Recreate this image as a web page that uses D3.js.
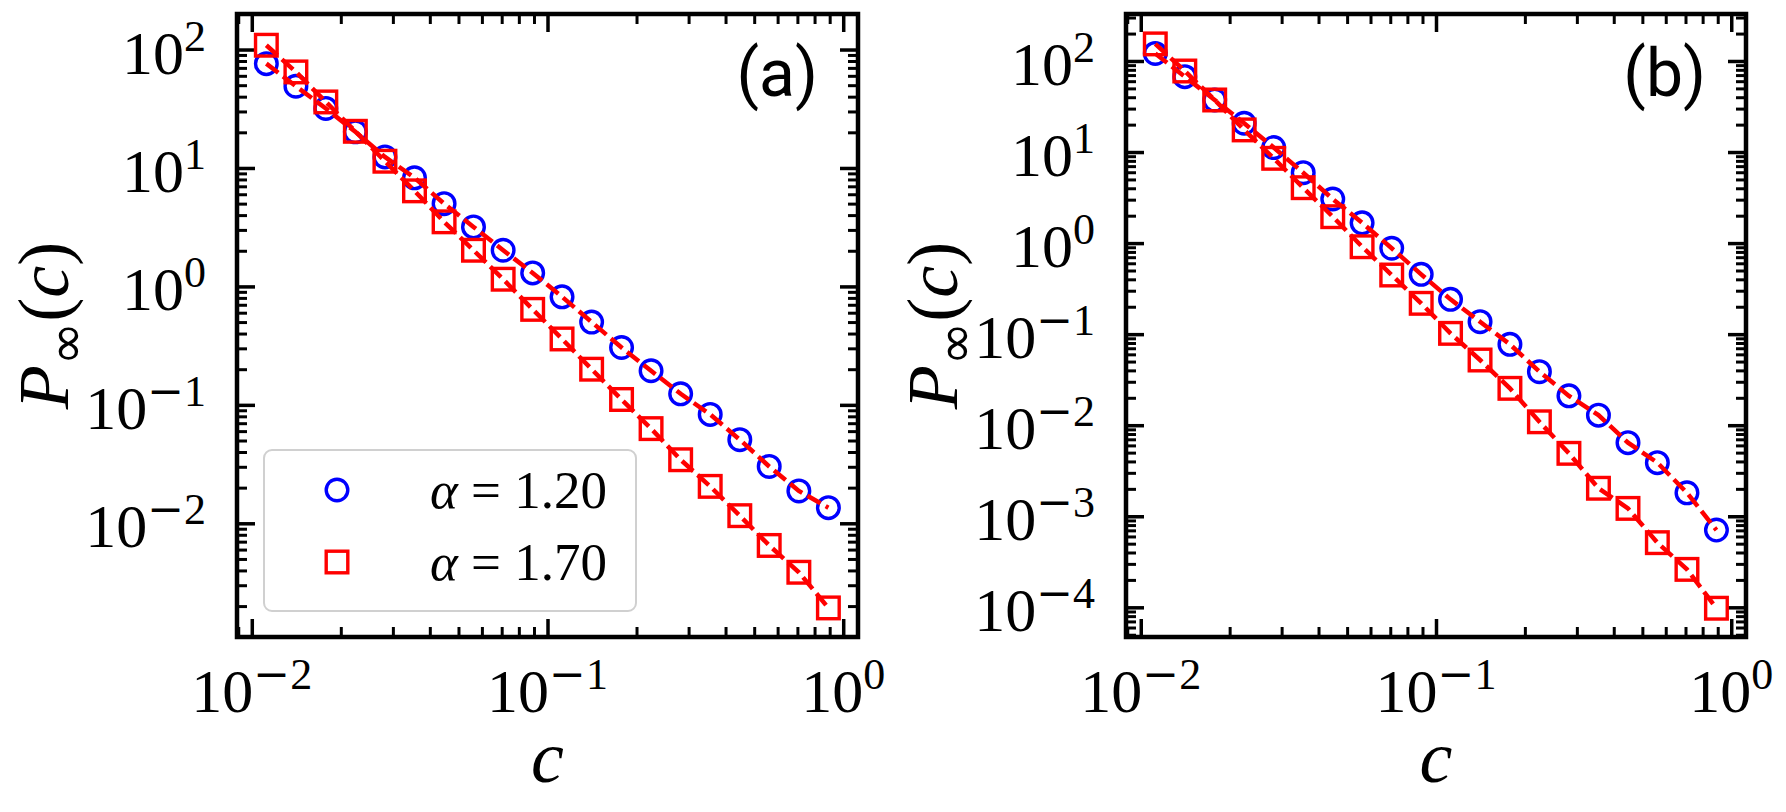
<!DOCTYPE html>
<html>
<head>
<meta charset="utf-8">
<script src="https://cdnjs.cloudflare.com/ajax/libs/d3/7.8.5/d3.min.js"></script>
<style>
body{margin:0;background:#fff;}
svg{display:block;}
text{font-family:"Liberation Serif","DejaVu Serif",serif;fill:#000;}
</style>
</head>
<body>
<div id="canvas"></div>
<script>
// data
var cValues = [0.0112, 0.0141, 0.0178, 0.0224, 0.0282, 0.0355, 0.0447, 0.0562, 0.0708, 0.0891,
               0.112, 0.141, 0.178, 0.224, 0.282, 0.355, 0.447, 0.562, 0.708, 0.891];

var circlesA = [76, 49, 31.8, 20.2, 12.4, 8.26, 5.0, 3.18, 2.02, 1.30,
                0.817, 0.50, 0.305, 0.194, 0.124, 0.083, 0.0508, 0.0302, 0.01875, 0.01355];
var squaresA = [108.7, 64.7, 36.1, 20.4, 11.4, 6.41, 3.51, 2.02, 1.15, 0.64,
                0.36, 0.20, 0.111, 0.063, 0.0344, 0.0205, 0.0116, 0.0065, 0.00386, 0.00193];

var circlesB = [121, 67.3, 37.3, 20.7, 11.2, 5.93, 3.05, 1.67, 0.878, 0.454,
                0.241, 0.137, 0.0773, 0.0387, 0.021, 0.0129, 0.00643, 0.00388, 0.00181, 0.000706];
var squaresB = [154, 77.6, 37.3, 17.5, 8.53, 4.06, 1.95, 0.912, 0.446, 0.218,
                0.102, 0.052, 0.0254, 0.0109, 0.00491, 0.00203, 0.00122, 0.000513, 0.000261, 0.0000977];

var alphaLabels = ['1.20', '1.70'];
var panelNames = ['(a)', '(b)'];
var xTickExps = [-2, -1, 0];
var yTickExpsA = [-2, -1, 0, 1, 2];
var yTickExpsB = [-4, -3, -2, -1, 0, 1, 2];

var W = 1786, H = 812;
var svg = d3.select('#canvas').append('svg')
    .attr('width', W)
    .attr('height', H);

var MAJ = 18, MIN = 10;
var TICKFONT = 62;

function minorTicks(scale) {
    var d = scale.domain();
    var lo = Math.floor(Math.log10(d[0])), hi = Math.ceil(Math.log10(d[1]));
    var out = [];
    for (var e = lo; e <= hi; e++) {
        for (var k = 2; k <= 9; k++) {
            var v = k * Math.pow(10, e);
            if (v >= d[0] && v <= d[1]) out.push(v);
        }
    }
    return out;
}

// "10" with a superscript exponent
function powLabel(g, exp, x, y, anchor) {
    var t = g.append('text')
        .attr('x', x)
        .attr('y', y)
        .attr('text-anchor', anchor)
        .style('font-size', TICKFONT + 'px');
    t.append('tspan').text('10');
    var sup = t.append('tspan')
        .attr('dy', -23)
        .style('font-size', '44px');
    if (exp < 0) {
        sup.append('tspan').style('font-family', '"DejaVu Serif", serif').text('\u2212');
        sup.append('tspan').text(String(-exp));
    } else {
        sup.text(String(exp));
    }
}

function drawPanel(p) {
    var x = d3.scaleLog().domain([Math.pow(10, -2.05), Math.pow(10, 0.05)]).range([p.l, p.r]);
    var y = d3.scaleLog().domain(p.yDom).range([p.b, p.t]);
    var g = svg.append('g');

    var xMaj = xTickExps.map(function(e){ return Math.pow(10, e); });
    var yMaj = p.yExps.map(function(e){ return Math.pow(10, e); });

    // ticks pointing inward on all four sides
    var sides = [
        {ax: d3.axisBottom(x), tr: 'translate(0,' + p.b + ')', maj: xMaj},
        {ax: d3.axisTop(x), tr: 'translate(0,' + p.t + ')', maj: xMaj},
        {ax: d3.axisLeft(y), tr: 'translate(' + p.l + ',0)', maj: yMaj},
        {ax: d3.axisRight(y), tr: 'translate(' + p.r + ',0)', maj: yMaj}
    ];
    sides.forEach(function(s){
        g.append('g').attr('transform', s.tr)
            .call(s.ax.tickValues(minorTicks(s.ax.scale())).tickSize(-MIN).tickFormat(''))
            .call(function(a){
                a.select('.domain').remove();
                a.selectAll('line').attr('stroke', '#000').attr('stroke-width', 3);
            });
        g.append('g').attr('transform', s.tr)
            .call(s.ax.tickValues(s.maj).tickSize(-MAJ).tickFormat(''))
            .call(function(a){
                a.select('.domain').remove();
                a.selectAll('line').attr('stroke', '#000').attr('stroke-width', 3.5);
            });
    });

    // frame
    g.append('rect')
        .attr('x', p.l).attr('y', p.t)
        .attr('width', p.r - p.l).attr('height', p.b - p.t)
        .attr('fill', 'none')
        .attr('stroke', '#000')
        .attr('stroke-width', 4.5);

    // tick labels
    xTickExps.forEach(function(e){
        powLabel(g, e, x(Math.pow(10, e)), 712, 'middle');
    });
    p.yExps.forEach(function(e){
        powLabel(g, e, p.l - 31, y(Math.pow(10, e)) + 24, 'end');
    });

    // axis titles
    g.append('text')
        .attr('x', (p.l + p.r) / 2).attr('y', 782)
        .attr('text-anchor', 'middle')
        .style('font-size', '74px').style('font-style', 'italic')
        .text('c');
    var yl = g.append('text')
        .attr('transform', 'translate(' + (p.l - 169) + ',' + ((p.t + p.b) / 2) + ') rotate(-90)')
        .attr('text-anchor', 'middle')
        .style('font-size', '72px');
    yl.append('tspan').style('font-style', 'italic').text('P');
    yl.append('tspan').attr('dy', 16)
        .style('font-family', '"DejaVu Sans", sans-serif')
        .style('font-size', '52px').text('\u221e');
    yl.append('tspan').attr('dy', -16).text('(');
    yl.append('tspan').style('font-style', 'italic').text('c');
    yl.append('tspan').text(')');

    // markers
    var pts = function(vals){ return cValues.map(function(c, i){ return [c, vals[i]]; }); };
    g.selectAll('circle.pt')
        .data(pts(p.circles)).enter().append('circle')
        .attr('class', 'pt')
        .attr('cx', function(d){ return x(d[0]); })
        .attr('cy', function(d){ return y(d[1]); })
        .attr('r', 10.8)
        .attr('fill', 'none').attr('stroke', '#0000ff').attr('stroke-width', 3.4);
    g.selectAll('rect.pt')
        .data(pts(p.squares)).enter().append('rect')
        .attr('class', 'pt')
        .attr('x', function(d){ return x(d[0]) - 10.8; })
        .attr('y', function(d){ return y(d[1]) - 10.8; })
        .attr('width', 21.6).attr('height', 21.6)
        .attr('fill', 'none').attr('stroke', '#ff0000').attr('stroke-width', 3.4);

    // red dashed lines over the markers
    var line = d3.line()
        .x(function(d){ return x(d[0]); })
        .y(function(d){ return y(d[1]); });
    [p.circles, p.squares].forEach(function(vals){
        g.append('path')
            .attr('d', line(pts(vals)))
            .attr('fill', 'none')
            .attr('stroke', '#ff0000')
            .attr('stroke-width', 4.5)
            .attr('stroke-dasharray', '15,6');
    });

    // panel name
    g.append('text')
        .attr('x', p.r - 40).attr('y', 96)
        .attr('text-anchor', 'end')
        .style('font-family', 'Roboto, "DejaVu Sans", sans-serif')
        .style('font-size', '66px')
        .text(p.name);

    if (p.legend) {
        var lg = g.append('g');
        lg.append('rect')
            .attr('x', 264).attr('y', 450)
            .attr('width', 372).attr('height', 161)
            .attr('rx', 8)
            .attr('fill', '#fff').attr('fill-opacity', 0.8)
            .attr('stroke', '#d0d0d0').attr('stroke-width', 2);
        lg.append('circle')
            .attr('cx', 337).attr('cy', 490).attr('r', 10.8)
            .attr('fill', 'none').attr('stroke', '#0000ff').attr('stroke-width', 3.4);
        lg.append('rect')
            .attr('x', 337 - 10.8).attr('y', 562 - 10.8)
            .attr('width', 21.6).attr('height', 21.6)
            .attr('fill', 'none').attr('stroke', '#ff0000').attr('stroke-width', 3.4);
        [508, 580].forEach(function(by, i){
            var t = lg.append('text')
                .attr('x', 430).attr('y', by)
                .style('font-size', '53px');
            t.append('tspan').style('font-style', 'italic').text('\u03b1');
            t.append('tspan').text(' = ' + alphaLabels[i]);
        });
    }
}

drawPanel({l: 237, r: 858, t: 14, b: 637,
           yDom: [Math.pow(10, -2.96), Math.pow(10, 2.30)], yExps: yTickExpsA,
           circles: circlesA, squares: squaresA, name: panelNames[0], legend: true});
drawPanel({l: 1126, r: 1746, t: 14, b: 637,
           yDom: [Math.pow(10, -4.326), Math.pow(10, 2.516)], yExps: yTickExpsB,
           circles: circlesB, squares: squaresB, name: panelNames[1], legend: false});
</script>
</body>
</html>
